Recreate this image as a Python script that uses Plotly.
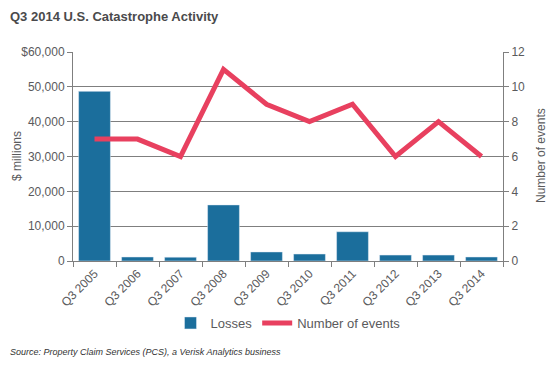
import plotly.graph_objects as go

categories = ["Q3 2005", "Q3 2006", "Q3 2007", "Q3 2008", "Q3 2009",
              "Q3 2010", "Q3 2011", "Q3 2012", "Q3 2013", "Q3 2014"]
losses = [48700, 1150, 1100, 16100, 2600, 2000, 8400, 1700, 1700, 1150]
events = [7, 7, 6, 11, 9, 8, 9, 6, 8, 6]
left_ticks = [0, 10000, 20000, 30000, 40000, 50000, 60000]
left_tick_text = ["0", "10,000", "20,000", "30,000", "40,000", "50,000", "$60,000"]
right_ticks = [0, 2, 4, 6, 8, 10, 12]

BAR = "#1b6e9c"
LINE = "#e8405f"
TXT = "#5a5a5c"
AX = "#7f7f7f"
FONT = "Liberation Sans, Arial, sans-serif"

OFF = 8  # page body margin
W, H = 557 - OFF, 370 - OFF
# target screen coordinates of plot area
SL, SR, ST, SB = 73, 503, 52, 261
ML, MT = SL - OFF, ST - OFF
MR = W - (SR - OFF)
MB = H - (SB - OFF)
pw = W - ML - MR
ph = H - MT - MB


def px(x):
    return (x - OFF - ML) / pw


def py(y):
    return (H - MB - (y - OFF)) / ph


fig = go.Figure()
fig.add_trace(go.Bar(x=categories, y=losses, name="Losses", marker_color=BAR,
                     yaxis="y"))
fig.add_trace(go.Scatter(x=categories, y=events, name="Number of events",
                         mode="lines", line=dict(color=LINE, width=5),
                         yaxis="y2"))

fig.update_layout(
    width=W, height=H,
    margin=dict(l=ML, r=MR, t=MT, b=MB, autoexpand=False),
    paper_bgcolor="white", plot_bgcolor="white",
    font=dict(family=FONT, size=12, color=TXT),
    bargap=0.26,
    showlegend=True,
    legend=dict(orientation="h", x=0.5, xanchor="center", y=py(323), yanchor="middle",
                font=dict(size=13, color=TXT), itemwidth=30, tracegroupgap=0),
    xaxis=dict(showline=True, linecolor=AX, linewidth=1, ticks="outside",
               tickson="boundaries", ticklen=5, tickcolor=AX, tickangle=-45,
               tickfont=dict(size=12, color=TXT), showgrid=False, automargin=False),
    yaxis=dict(range=[0, 60000], tickvals=left_ticks, ticktext=left_tick_text,
               showgrid=True, gridcolor=AX, gridwidth=1, showline=True,
               linecolor=AX, ticks="outside", ticklen=5, tickcolor=AX,
               zeroline=False, automargin=False),
    yaxis2=dict(range=[0, 12], tickvals=right_ticks, overlaying="y", side="right",
                showgrid=False, showline=True, linecolor=AX, ticks="outside",
                ticklen=5, tickcolor=AX, zeroline=False, automargin=False),
    annotations=[
        dict(text="<b>Q3 2014 U.S. Catastrophe Activity</b>", x=px(8), y=py(17),
             xanchor="left", yanchor="middle", font=dict(size=13, color="#4a4a4c")),
        dict(text="<i>Source: Property Claim Services (PCS), a Verisk Analytics business</i>",
             x=px(8), y=py(352), xanchor="left", yanchor="middle",
             font=dict(size=9, color="#333333")),
        dict(text="$ millions", x=px(17), y=py(156), textangle=-90,
             xanchor="center", yanchor="middle", font=dict(size=12, color=TXT)),
        dict(text="Number of events", x=px(541), y=py(156), textangle=-90,
             xanchor="center", yanchor="middle", font=dict(size=12, color=TXT)),
    ],
)
for a in fig.layout.annotations:
    a.update(xref="paper", yref="paper", showarrow=False)

fig.write_html("out.html")
